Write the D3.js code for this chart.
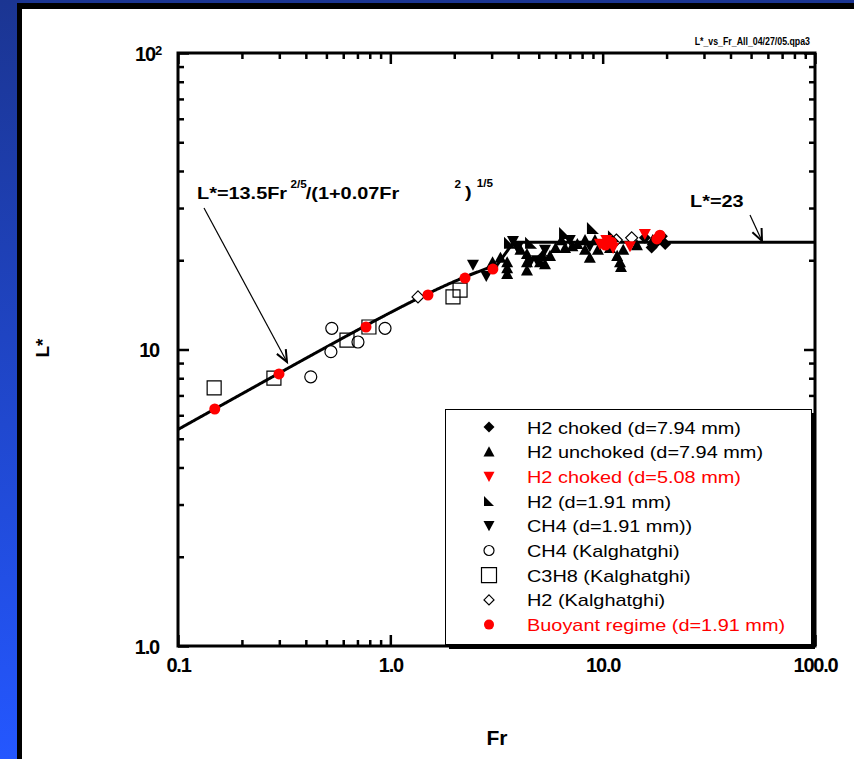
<!DOCTYPE html>
<html><head><meta charset="utf-8">
<script src="https://cdn.jsdelivr.net/npm/d3@7"></script>
<style>body{margin:0;overflow:hidden;background:#fff}</style>
</head><body>
<svg id="chart" width="854" height="759"></svg>
<script>
// ---- data: [Fr, L*] pairs per series ----
const h2Choked794 = [[15.8,23.8],[17.0,22.1],[17.9,23.0],[19.0,24.1],[19.7,22.7]];
const h2Unchoked794 = [[3.03,19.7],[3.55,19.7],[3.55,18.8],[3.55,18.0],[4.40,21.0],[4.40,19.7],[4.40,18.5],
  [5.2,20.7],[5.35,19.4],[6.4,23.4],[6.65,22.0],[7.2,22.3],[7.6,22.7],[8.26,21.7],[9.2,23.4],[9.5,21.7],
  [10.83,22.0],[11.7,20.7],[12.07,19.7],[12.5,21.7],[14.5,22.5],[17.2,23.4],
  [3.3,20.4],[4.1,21.7],[5.07,19.7],[5.65,20.7],[6.0,22.0],[8.26,23.4],[8.7,20.4],[12.2,19.0]];
const h2Choked508 = [[9.7,22.7],[10.4,23.4],[11.2,22.0],[13.45,22.3],[15.8,24.5]];
const h2Small191 = [[3.66,22.9],[4.6,22.9],[6.65,24.7],[9.0,25.7],[11.3,24.1]];
const ch4Small191 = [[2.45,19.3],[2.83,17.7],[3.78,23.2],[3.97,22.0],[4.55,19.7],[4.9,20.0],[5.35,21.7],[7.0,23.4],[8.7,22.3]];
const ch4Kalghatghi = [[0.422,8.09],[0.530,11.79],[0.525,9.83],[0.944,11.79],[0.704,10.6]];
const c3h8Kalghatghi = [[0.148,7.42],[0.283,8.01],[0.625,10.76],[0.793,11.91],[1.973,15.04],[2.13,15.87]];
const h2Kalghatghi = [[1.35,15.04],[5.2,20.4],[11.6,23.4],[13.7,23.8]];
const buoyant191 = [[0.149,6.30],[0.299,8.27],[0.768,11.91],[1.504,15.27],[2.247,17.42],[3.04,18.68],
  [10.3,22.5],[11.0,23.0],[18.0,23.6],[18.6,24.3]];

const legendLabels = ["H2 choked (d=7.94 mm)","H2 unchoked (d=7.94 mm)","H2 choked (d=5.08 mm)","H2 (d=1.91 mm)",
  "CH4 (d=1.91 mm))","CH4 (Kalghatghi)","C3H8 (Kalghatghi)","H2 (Kalghatghi)","Buoyant regime (d=1.91 mm)"];
const xMajorTicks = [0.1, 1, 10, 100];
const xTickLabels = ["0.1","1.0","10.0","100.0"];
const yMajorTicks = [1, 10, 100];
const yTickLabels = ["1.0","10","10"];

// correlation L* = 13.5 Fr^(2/5) / (1 + 0.07 Fr^2)^(1/5), plateau L* = 23
const corrA = 13.5, corrB = 0.07, plateau = 23, plateauStart = 3.8;

const svg = d3.select("#chart");
const defs = svg.append("defs");
const grad = defs.append("linearGradient").attr("id","bg").attr("x1",0).attr("y1",0).attr("x2",0).attr("y2",1);
grad.append("stop").attr("offset","0%").attr("stop-color","#1b3592");
grad.append("stop").attr("offset","100%").attr("stop-color","#2457ff");

svg.append("rect").attr("width",854).attr("height",759).attr("fill","url(#bg)");
svg.append("rect").attr("x",17).attr("y",3).attr("width",900).attr("height",800).attr("fill","#000");
svg.append("rect").attr("x",22).attr("y",9).attr("width",900).attr("height",800).attr("fill","#fff");

const x = d3.scaleLog().domain([0.1,100]).range([178,815]);
const y = d3.scaleLog().domain([1,100]).range([646,53]);

const minorX = x.ticks().filter(v => !xMajorTicks.some(m => Math.abs(m - v) < 1e-9));
const minorY = y.ticks().filter(v => !yMajorTicks.some(m => Math.abs(m - v) < 1e-9));

function tickStyle(g){
  g.select(".domain").remove();
  g.selectAll("line").attr("stroke","#000").attr("stroke-width",2.5);
}
// minor ticks on all four sides (inward)
svg.append("g").attr("transform","translate(0,646)").call(d3.axisBottom(x).tickValues(minorX).tickSize(-6).tickFormat("")).call(tickStyle);
svg.append("g").attr("transform","translate(0,53)").call(d3.axisTop(x).tickValues(minorX).tickSize(-6).tickFormat("")).call(tickStyle);
svg.append("g").attr("transform","translate(178,0)").call(d3.axisLeft(y).tickValues(minorY).tickSize(-6).tickFormat("")).call(tickStyle);
svg.append("g").attr("transform","translate(815,0)").call(d3.axisRight(y).tickValues(minorY).tickSize(-6).tickFormat("")).call(tickStyle);
// major ticks
svg.append("g").attr("transform","translate(0,53)").call(d3.axisTop(x).tickValues(xMajorTicks).tickSize(-11).tickFormat("")).call(tickStyle);
svg.append("g").attr("transform","translate(815,0)").call(d3.axisRight(y).tickValues(yMajorTicks).tickSize(-11).tickFormat("")).call(tickStyle);

const xAxisG = svg.append("g").attr("transform","translate(0,646)")
  .call(d3.axisBottom(x).tickValues(xMajorTicks).tickSize(-11).tickPadding(22).tickFormat((d,i) => xTickLabels[i]))
  .call(tickStyle);
xAxisG.selectAll("text").attr("font-family","Liberation Sans, Arial, sans-serif").attr("font-weight","bold")
  .attr("font-size",20).attr("fill","#000").attr("letter-spacing",-1.2).attr("y",24).attr("dy","0.1em");

const yAxisG = svg.append("g").attr("transform","translate(178,0)")
  .call(d3.axisLeft(y).tickValues(yMajorTicks).tickSize(-11).tickPadding(20).tickFormat((d,i) => yTickLabels[i]))
  .call(tickStyle);
yAxisG.selectAll("text").attr("font-family","Liberation Sans, Arial, sans-serif").attr("font-weight","bold")
  .attr("font-size",20).attr("fill","#000").attr("letter-spacing",-1.2).attr("x",-19).attr("dy","0.36em");
yAxisG.selectAll("text").filter(d => d === 100)
  .append("tspan").attr("dy","-0.45em").attr("font-size",13).text("2");
yAxisG.selectAll("text").filter(d => d === 100).attr("x",-17);

// frame
svg.append("rect").attr("x",178).attr("y",53).attr("width",815-178).attr("height",646-53)
  .attr("fill","none").attr("stroke","#000").attr("stroke-width",3);

// correlation line
const frGrid = d3.range(0, 1001).map(i => 0.1 * Math.pow(10, 3 * i / 1000));
const curve = frGrid.filter(f => f <= 3.2).map(f => [f, corrA * Math.pow(f, 0.4) / Math.pow(1 + corrB * f * f, 0.2)]);
curve.push([plateauStart, plateau], [100, plateau]);
svg.append("path").datum(curve)
  .attr("d", d3.line().x(d => x(d[0])).y(d => y(d[1])))
  .attr("fill","none").attr("stroke","#000").attr("stroke-width",3);

// marker shapes
const shapes = {
  diamond: s => `M0,${-s}L${s},0L0,${s}L${-s},0Z`,
  up: s => `M0,${-s}L${s},${s*0.85}L${-s},${s*0.85}Z`,
  down: s => `M0,${s}L${s},${-s*0.85}L${-s},${-s*0.85}Z`,
  corner: s => `M${-s},${-s}L${-s},${s}L${s},${s}Z`,
  square: s => `M${-s},${-s}H${s}V${s}H${-s}Z`,
  circle: s => `M${-s},0A${s},${s} 0 1 0 ${s},0A${s},${s} 0 1 0 ${-s},0Z`
};
const series = [
  {data: h2Kalghatghi, shape:"diamond", size:6, fill:"#fff", stroke:"#000"},
  {data: ch4Kalghatghi, shape:"circle", size:6, fill:"#fff", stroke:"#000"},
  {data: c3h8Kalghatghi, shape:"square", size:7, fill:"none", stroke:"#000"},
  {data: h2Unchoked794, shape:"up", size:6, fill:"#000", stroke:"none"},
  {data: ch4Small191, shape:"down", size:6, fill:"#000", stroke:"none"},
  {data: h2Small191, shape:"corner", size:6, fill:"#000", stroke:"none"},
  {data: h2Choked794, shape:"diamond", size:6, fill:"#000", stroke:"none"},
  {data: h2Choked508, shape:"down", size:6, fill:"#ff0000", stroke:"none"},
  {data: buoyant191, shape:"circle", size:5.5, fill:"#ff0000", stroke:"none"}
];
series.forEach(s => {
  svg.append("g").selectAll("path").data(s.data).join("path")
    .attr("transform", d => `translate(${x(d[0])},${y(d[1])})`)
    .attr("d", shapes[s.shape](s.size))
    .attr("fill", s.fill).attr("stroke", s.stroke).attr("stroke-width",1.2);
});

// annotations
const bold = "Liberation Sans, Arial, sans-serif";
function stretched(px, py, sx, fs, parts){
  const g = svg.append("g").attr("transform",`translate(${px},${py}) scale(${sx},1)`);
  const t = g.append("text").attr("font-family",bold).attr("font-weight","bold").attr("font-size",fs).attr("fill","#000");
  parts.forEach(p => t.append("tspan").attr("x",p.x).attr("dy",p.dy||0).attr("font-size",p.fs||fs).text(p.t));
  return g;
}
stretched(197, 199, 1.17, 17, [
  {t:"L*=13.5Fr", x:0},
  {t:"2/5", x:80, dy:-11, fs:10},
  {t:"/(1+0.07Fr", x:93, dy:11},
  {t:"2", x:220, dy:-11, fs:10},
  {t:")", x:229, dy:10},
  {t:"1/5", x:239, dy:-11, fs:10}
]);
stretched(690, 207, 1.17, 17, [{t:"L*=23", x:0}]);

function arrow(x1,y1,x2,y2){
  const g = svg.append("g").attr("stroke","#000").attr("fill","none");
  g.append("line").attr("x1",x1).attr("y1",y1).attr("x2",x2).attr("y2",y2).attr("stroke-width",1.2);
  const a = Math.atan2(y2-y1, x2-x1), L = 13, w = 0.4;
  g.append("path").attr("stroke-width",2)
    .attr("d",`M${x2-L*Math.cos(a-w)},${y2-L*Math.sin(a-w)}L${x2},${y2}L${x2-L*Math.cos(a+w)},${y2-L*Math.sin(a+w)}`);
}
arrow(204,208,287,362);
arrow(750,215,762,241);

// file tag
svg.append("g").attr("transform","translate(810,45) scale(0.8,1)").append("text")
  .attr("text-anchor","end").attr("font-family",bold).attr("font-weight","bold").attr("font-size",11)
  .text("L*_vs_Fr_All_04/27/05.qpa3");

// axis titles
svg.append("text").attr("x",497).attr("y",745).attr("text-anchor","middle").attr("font-family",bold)
  .attr("font-weight","bold").attr("font-size",21).text("Fr");
svg.append("text").attr("transform","translate(49,348) rotate(-90)").attr("text-anchor","middle").attr("font-family",bold)
  .attr("font-weight","bold").attr("font-size",19).text("L*");

// legend
const lg = svg.append("g");
lg.append("rect").attr("x",449).attr("y",413).attr("width",366).attr("height",236).attr("fill","#000");
lg.append("rect").attr("x",445.5).attr("y",409.5).attr("width",366).attr("height",235).attr("fill","#fff").attr("stroke","#000").attr("stroke-width",1);
const legendSpecs = [
  {shape:"diamond", size:5.5, fill:"#000", stroke:"none", color:"#000"},
  {shape:"up", size:5.5, fill:"#000", stroke:"none", color:"#000"},
  {shape:"down", size:5.5, fill:"#ff0000", stroke:"none", color:"#ff0000"},
  {shape:"corner", size:5, fill:"#000", stroke:"none", color:"#000"},
  {shape:"down", size:5.5, fill:"#000", stroke:"none", color:"#000"},
  {shape:"circle", size:5, fill:"#fff", stroke:"#000", color:"#000"},
  {shape:"square", size:7.5, fill:"#fff", stroke:"#000", color:"#000"},
  {shape:"diamond", size:5, fill:"#fff", stroke:"#000", color:"#000"},
  {shape:"circle", size:5, fill:"#ff0000", stroke:"none", color:"#ff0000"}
];
legendLabels.forEach((lab, i) => {
  const cy = 427 + i * 24.7;
  lg.append("path").attr("transform",`translate(489,${cy})`).attr("d",shapes[legendSpecs[i].shape](legendSpecs[i].size))
    .attr("fill",legendSpecs[i].fill).attr("stroke",legendSpecs[i].stroke).attr("stroke-width",1.2);
  lg.append("g").attr("transform",`translate(527,${cy+6.5}) scale(1.17,1)`).append("text")
    .attr("font-family","Liberation Sans, Arial, sans-serif").attr("font-size",17).attr("fill",legendSpecs[i].color).text(lab);
});
</script>
</body></html>
